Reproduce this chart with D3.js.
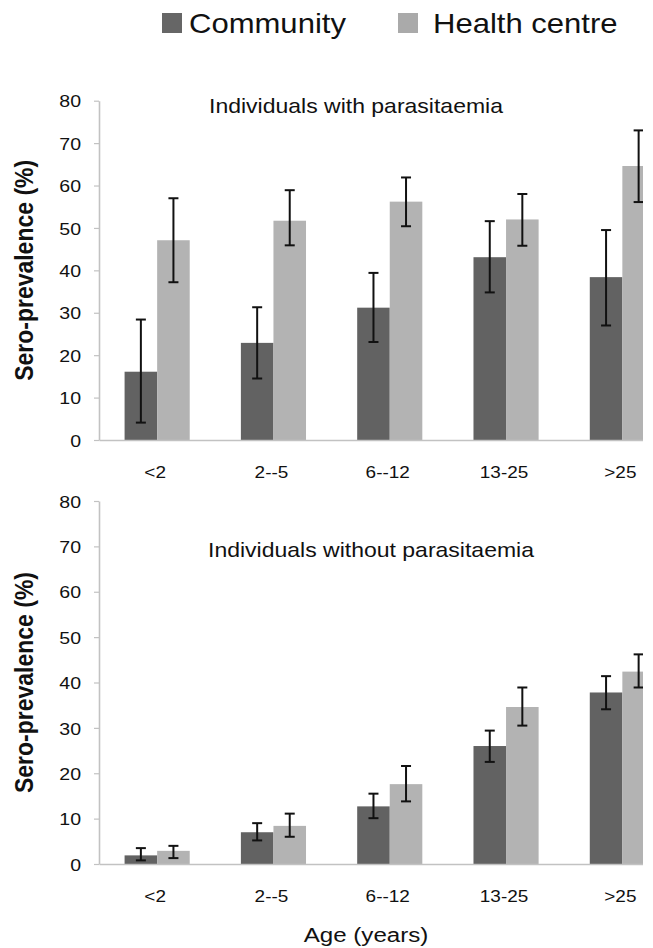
<!DOCTYPE html>
<html>
<head>
<meta charset="utf-8">
<script src="https://cdn.jsdelivr.net/npm/d3@7"></script>
<style>
  body { margin: 0; background: #fff; }
  text { font-family: "Liberation Sans", Arial, sans-serif; fill: #111; }
</style>
</head>
<body>
<svg id="chart"></svg>
<script>
var ageGroups = ["<2", "2--5", "6--12", "13-25", ">25"];
var series = ["Community", "Health centre"];
var yTicks = [0, 10, 20, 30, 40, 50, 60, 70, 80];

// individuals with parasitaemia
var withCommunity = [16.1, 22.9, 31.2, 43.1, 38.4];
var withCommunityLo = [4.1, 14.5, 23.1, 34.8, 27.0];
var withCommunityHi = [28.4, 31.3, 39.4, 51.6, 49.5];
var withHealth = [47.1, 51.7, 56.2, 52.0, 64.6];
var withHealthLo = [37.2, 45.9, 50.4, 45.8, 56.1];
var withHealthHi = [57.0, 58.9, 61.9, 58.0, 73.0];

// individuals without parasitaemia
var withoutCommunity = [1.9, 7.0, 12.7, 26.0, 37.8];
var withoutCommunityLo = [0.8, 5.2, 10.1, 22.5, 34.1];
var withoutCommunityHi = [3.5, 9.0, 15.5, 29.4, 41.4];
var withoutHealth = [2.9, 8.4, 17.6, 34.6, 42.4];
var withoutHealthLo = [1.3, 6.0, 13.8, 30.5, 38.9];
var withoutHealthHi = [4.0, 11.1, 21.6, 38.9, 46.2];

var width = 653;
var height = 948;
var SX = 1.15; // the picture is a bit stretched sideways
var colors = {"Community": "#626262", "Health centre": "#b3b3b3"};
var axisColor = "#c2c2c2";

var svg = d3.select("#chart")
  .attr("width", width)
  .attr("height", height);

svg.append("defs").append("clipPath")
  .attr("id", "plotclip")
  .append("rect")
  .attr("x", 90).attr("y", 0)
  .attr("width", 643 - 90).attr("height", height);

function label(g, x, y, txt, size, anchor, extra) {
  return g.append("text")
    .attr("transform", "translate(" + x + "," + y + ") scale(" + SX + ",1)" + (extra || ""))
    .attr("text-anchor", anchor)
    .style("font-size", size + "px")
    .text(txt);
}

// legend
var legend = svg.append("g");
var legendX = [162, 398];
series.forEach(function(s, i) {
  legend.append("rect")
    .attr("x", legendX[i]).attr("y", 13)
    .attr("width", 20).attr("height", 20)
    .attr("fill", i == 0 ? "#666" : "#aaa");
  label(legend, legendX[i] + (i == 0 ? 27 : 35), 33, s, 27, "start");
});

function panel(opts) {
  var g = svg.append("g");

  var x = d3.scaleBand()
    .domain(ageGroups)
    .range([99, 680.5])
    .paddingInner(0.44)
    .paddingOuter(0.22);

  var xs = d3.scaleBand()
    .domain(series)
    .range([0, x.bandwidth()]);

  var y = d3.scaleLinear()
    .domain([0, 80])
    .range([opts.bottom, opts.top]);

  // y axis
  var yAxis = g.append("g")
    .attr("transform", "translate(99,0)")
    .call(d3.axisLeft(y).tickValues(yTicks).tickSize(5).tickSizeOuter(0));
  yAxis.select(".domain").attr("stroke", axisColor).attr("stroke-width", 1.6);
  yAxis.selectAll(".tick line").attr("stroke", axisColor).attr("stroke-width", 1.2);
  yAxis.selectAll(".tick text")
    .attr("x", null).attr("dy", "0.36em")
    .attr("transform", "translate(-18,0) scale(" + SX + ",1)")
    .style("font-size", "17px")
    .attr("fill", "#111");
  yAxis.attr("font-size", null).attr("font-family", null);

  var plot = g.append("g").attr("clip-path", "url(#plotclip)");

  var rows = ageGroups.map(function(a, i) {
    return [
      {age: a, s: series[0], v: opts.c[i], lo: opts.cLo[i], hi: opts.cHi[i]},
      {age: a, s: series[1], v: opts.h[i], lo: opts.hLo[i], hi: opts.hHi[i]}
    ];
  });
  var flat = [].concat.apply([], rows);

  plot.selectAll(".bar")
    .data(flat)
    .enter()
    .append("rect")
    .attr("class", "bar")
    .attr("x", function(d) { return x(d.age) + xs(d.s); })
    .attr("width", xs.bandwidth())
    .attr("y", function(d) { return y(d.v); })
    .attr("height", function(d) { return y(0) - y(d.v); })
    .attr("fill", function(d) { return colors[d.s]; });

  // x axis
  var xAxis = plot.append("g")
    .attr("transform", "translate(0," + opts.bottom + ")")
    .call(d3.axisBottom(x).tickSize(0).tickSizeOuter(0));
  xAxis.select(".domain").attr("stroke", axisColor).attr("stroke-width", 1.6);
  xAxis.attr("font-size", null).attr("font-family", null);
  xAxis.selectAll(".tick text")
    .attr("y", null).attr("dy", null)
    .attr("transform", "translate(-2,38) scale(" + SX + ",1)")
    .style("font-size", "16.5px")
    .attr("fill", "#111");

  // error bars
  var err = plot.selectAll(".err")
    .data(flat)
    .enter()
    .append("g")
    .attr("class", "err")
    .attr("transform", function(d) { return "translate(" + (x(d.age) + xs(d.s) + xs.bandwidth() / 2) + ",0)"; })
    .attr("stroke", "#111")
    .attr("stroke-width", 2);
  err.append("line")
    .attr("y1", function(d) { return y(d.lo); })
    .attr("y2", function(d) { return y(d.hi); });
  err.append("line")
    .attr("x1", -5).attr("x2", 5)
    .attr("y1", function(d) { return y(d.hi); })
    .attr("y2", function(d) { return y(d.hi); });
  err.append("line")
    .attr("x1", -5).attr("x2", 5)
    .attr("y1", function(d) { return y(d.lo); })
    .attr("y2", function(d) { return y(d.lo); });

  // title
  label(g, opts.titleX, opts.titleY, opts.title, 20, "middle");

  // y label
  g.append("text")
    .attr("transform", "translate(33," + (opts.top + opts.bottom) / 2 + ") scale(" + SX + ",1) rotate(-90)")
    .attr("text-anchor", "middle")
    .style("font-size", "23px")
    .style("font-weight", "bold")
    .text("Sero-prevalence (%)");
}

panel({
  top: 100.7, bottom: 440,
  c: withCommunity, cLo: withCommunityLo, cHi: withCommunityHi,
  h: withHealth, hLo: withHealthLo, hHi: withHealthHi,
  title: "Individuals with parasitaemia", titleX: 356, titleY: 113
});

panel({
  top: 501, bottom: 864,
  c: withoutCommunity, cLo: withoutCommunityLo, cHi: withoutCommunityHi,
  h: withoutHealth, hLo: withoutHealthLo, hHi: withoutHealthHi,
  title: "Individuals without parasitaemia", titleX: 371, titleY: 557
});

label(svg, 366, 942, "Age (years)", 21, "middle");
</script>
</body>
</html>
